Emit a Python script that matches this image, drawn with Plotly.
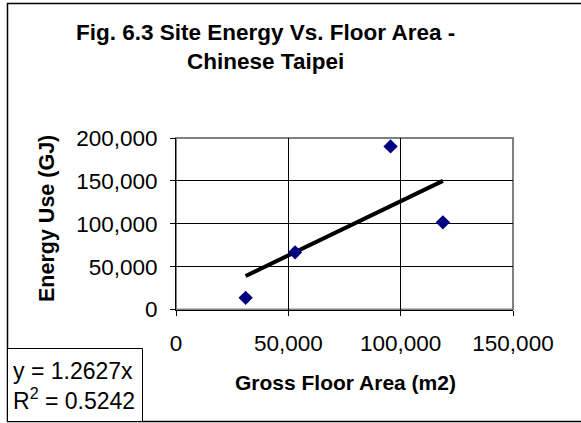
import plotly.graph_objects as go

# Gross floor area (m2) and site energy use (GJ) per building
floor_area = [31000, 53000, 95500, 118800]
energy_use = [13600, 66700, 190200, 101700]

# Linear trend through the origin
slope = 1.2627
r_squared = 0.5242

x_ticks = [0, 50000, 100000, 150000]
y_ticks = [0, 50000, 100000, 150000, 200000]

W, H = 581, 423
FONT = "Liberation Sans, Arial, sans-serif"

def px_x(p):
    return p / W

def px_y(p):
    return 1 - p / H

trend_x = [min(floor_area), max(floor_area)]
trend_y = [slope * v for v in trend_x]

fig = go.Figure()

fig.add_trace(go.Scatter(
    x=trend_x, y=trend_y, mode="lines",
    line=dict(color="black", width=4),
    hoverinfo="skip",
))
fig.add_trace(go.Scatter(
    x=floor_area, y=energy_use, mode="markers",
    marker=dict(symbol="diamond", size=11, color="#000080",
                line=dict(width=0)),
))

# plot-area frame (grey top/right edges)
fig.add_shape(type="rect", xref="x domain", yref="y domain",
              x0=0, y0=0, x1=1, y1=1,
              line=dict(color="#808080", width=2), layer="below")

# outer chart border
fig.add_shape(type="rect", xref="paper", yref="paper",
              x0=px_x(7.5), y0=px_y(421.5), x1=px_x(600), y1=px_y(3.5),
              line=dict(color="black", width=1.5), layer="below")

# equation box
fig.add_shape(type="rect", xref="paper", yref="paper",
              x0=px_x(7.5), y0=px_y(421.5), x1=px_x(142.5), y1=px_y(348.5),
              line=dict(color="black", width=1), fillcolor="white")
fig.add_annotation(
    xref="paper", yref="paper", x=px_x(11), y=px_y(386),
    xanchor="left", yanchor="middle", align="left", showarrow=False,
    text=f"y = {slope}x<br>R<sup>2</sup> = {r_squared}",
    font=dict(family=FONT, size=23, color="black"),
)

# title
fig.add_annotation(
    xref="paper", yref="paper", x=px_x(265), y=px_y(47),
    xanchor="center", yanchor="middle", showarrow=False,
    text="<b>Fig. 6.3 Site Energy Vs. Floor Area -<br>Chinese Taipei</b>",
    font=dict(family=FONT, size=22.5, color="black"),
)

# axis titles
fig.add_annotation(
    xref="paper", yref="paper", x=px_x(345), y=px_y(382),
    xanchor="center", yanchor="middle", showarrow=False,
    text="<b>Gross Floor Area (m2)</b>",
    font=dict(family=FONT, size=21, color="black"),
)
fig.add_annotation(
    xref="paper", yref="paper", x=px_x(47), y=px_y(219),
    xanchor="center", yanchor="middle", showarrow=False, textangle=-90,
    text="<b>Energy Use (GJ)</b>",
    font=dict(family=FONT, size=21.5, color="black"),
)

axis_common = dict(
    showgrid=True, gridcolor="black", gridwidth=1,
    showline=True, linecolor="black", linewidth=1,
    ticks="outside", ticklen=5, tickcolor="black", tickwidth=1,
    tickformat=",", zeroline=False,
    tickfont=dict(family=FONT, size=22.5, color="black"),
)

fig.update_layout(
    width=W, height=H,
    margin=dict(l=0, r=0, t=0, b=0, autoexpand=False),
    paper_bgcolor="white", plot_bgcolor="white",
    showlegend=False,
    xaxis=dict(domain=[px_x(176), px_x(513)], range=[0, 150000],
               tickvals=x_ticks, ticklabelstandoff=8, **axis_common),
    yaxis=dict(domain=[px_y(309.5), px_y(138)], range=[0, 200000],
               tickvals=y_ticks, ticklabelstandoff=8, **axis_common),
)

fig.write_html("out.html")
